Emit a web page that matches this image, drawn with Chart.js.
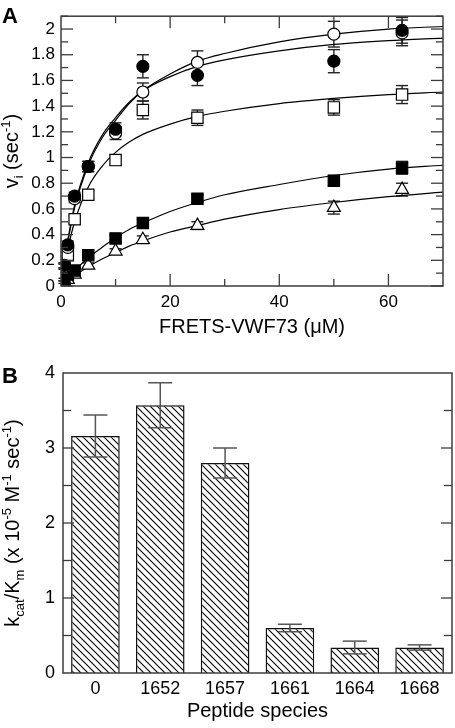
<!DOCTYPE html>
<html>
<head>
<meta charset="utf-8">
<script src="https://cdn.jsdelivr.net/npm/chart.js@4.4.0/dist/chart.umd.min.js"></script>
<style>
  body { margin: 0; background: #fff; }
  #wrapA { position: absolute; left: 0; top: 0; width: 455px; height: 340px; }
  #wrapB { position: absolute; left: 0; top: 340px; width: 455px; height: 388px; }
</style>
</head>
<body>
<div id="wrapA"><canvas id="chartA" width="455" height="340"></canvas></div>
<div id="wrapB"><canvas id="chartB" width="455" height="388"></canvas></div>
<script>
// ---- panel A: initial velocity vs substrate ----
const conc = [0.625, 1.25, 2.5, 5, 10, 15, 25, 50, 62.5];

const filledCircle = [0.16, 0.32, 0.70, 0.93, 1.22, 1.71, 1.64, 1.75, 1.99];
const filledCircleErr = [0.02, 0.03, 0.03, 0.04, 0.05, 0.09, 0.08, 0.09, 0.10];
const openCircle = [0.15, 0.30, 0.68, 0.93, 1.19, 1.51, 1.74, 1.96, 1.97];
const openCircleErr = [0.02, 0.03, 0.03, 0.04, 0.05, 0.07, 0.09, 0.10, 0.10];
const openSquare = [0.16, 0.24, 0.52, 0.71, 0.98, 1.37, 1.31, 1.39, 1.49];
const openSquareErr = [0.02, 0.02, 0.03, 0.03, 0.04, 0.07, 0.06, 0.06, 0.07];
const filledSquare = [0.05, 0.09, 0.12, 0.24, 0.37, 0.49, 0.68, 0.82, 0.92];
const filledSquareErr = [0.01, 0.02, 0.02, 0.02, 0.03, 0.03, 0.03, 0.04, 0.05];
const triangle = [0.03, 0.05, 0.09, 0.16, 0.27, 0.36, 0.47, 0.61, 0.75];
const triangleErr = [0.01, 0.01, 0.02, 0.02, 0.02, 0.03, 0.03, 0.05, 0.05];

// fitted curves
const fitX = [0, 0.625, 1.25, 2.5, 5, 7.5, 10, 12.5, 15, 20, 25, 30, 40, 50, 60, 70];
const fitOpenCircle = [0, 0.18, 0.34, 0.61, 0.94, 1.15, 1.29, 1.42, 1.52, 1.65, 1.75, 1.81, 1.90, 1.96, 2.00, 2.02];
const fitFilledCircle = [0, 0.19, 0.36, 0.63, 0.96, 1.17, 1.31, 1.43, 1.52, 1.63, 1.71, 1.76, 1.83, 1.88, 1.91, 1.93];
const fitOpenSquare = [0, 0.16, 0.29, 0.50, 0.77, 0.93, 1.04, 1.12, 1.18, 1.26, 1.32, 1.36, 1.42, 1.46, 1.49, 1.51];
const fitFilledSquare = [0, 0.03, 0.06, 0.12, 0.22, 0.30, 0.375, 0.44, 0.49, 0.58, 0.65, 0.71, 0.79, 0.86, 0.91, 0.94];
const fitTriangle = [0, 0.02, 0.04, 0.08, 0.15, 0.21, 0.26, 0.31, 0.35, 0.42, 0.47, 0.52, 0.595, 0.65, 0.695, 0.73];

const aXTicks = [0, 20, 40, 60];
const aYTicks = [0, 0.2, 0.4, 0.6, 0.8, 1, 1.2, 1.4, 1.6, 1.8, 2];

// ---- panel B: kcat/Km per peptide ----
const species = ['0', '1652', '1657', '1661', '1664', '1668'];
const kcatKm = [3.16, 3.57, 2.80, 0.60, 0.34, 0.34];
const kcatKmErr = [0.28, 0.30, 0.20, 0.05, 0.085, 0.035];
const bYTicks = [0, 1, 2, 3, 4];

const FONT = "'Liberation Sans', Arial, sans-serif";
const FRAME = '#3c3c3c';

function pts(ys) {
  return conc.map((x, i) => ({ x: x, y: ys[i] }));
}
function curve(ys) {
  return fitX.map((x, i) => ({ x: x, y: ys[i] }));
}

// text with sub/superscripts, rotated to run bottom-to-top
function drawRich(ctx, parts, cx, cy, rotate) {
  ctx.save();
  ctx.fillStyle = '#000';
  ctx.textBaseline = 'alphabetic';
  ctx.textAlign = 'left';
  let w = 0;
  parts.forEach(p => {
    ctx.font = p[1] + 'px ' + FONT;
    w += ctx.measureText(p[0]).width;
  });
  ctx.translate(cx, cy);
  if (rotate) ctx.rotate(-Math.PI / 2);
  let x = -w / 2;
  parts.forEach(p => {
    ctx.font = p[1] + 'px ' + FONT;
    ctx.fillText(p[0], x, p[2]);
    x += ctx.measureText(p[0]).width;
  });
  ctx.restore();
}

function line(ctx, x1, y1, x2, y2) {
  ctx.beginPath();
  ctx.moveTo(x1, y1);
  ctx.lineTo(x2, y2);
  ctx.stroke();
}

const errSetsA = [
  [filledCircle, filledCircleErr],
  [openCircle, openCircleErr],
  [openSquare, openSquareErr],
  [filledSquare, filledSquareErr],
  [triangle, triangleErr]
];

const panelAPlugin = {
  id: 'panelA',
  beforeDatasetsDraw(chart) {
    const ctx = chart.ctx, xs = chart.scales.x, ys = chart.scales.y;
    ctx.save();
    ctx.strokeStyle = '#222';
    ctx.lineWidth = 1.4;
    errSetsA.forEach(([vals, errs]) => {
      vals.forEach((v, i) => {
        const px = xs.getPixelForValue(conc[i]);
        const top = ys.getPixelForValue(v + errs[i]);
        const bot = ys.getPixelForValue(v - errs[i]);
        line(ctx, px, top, px, bot);
        line(ctx, px - 6, top, px + 6, top);
        line(ctx, px - 6, bot, px + 6, bot);
      });
    });
    ctx.restore();
  },
  afterDraw(chart) {
    const ctx = chart.ctx, a = chart.chartArea;
    const xs = chart.scales.x, ys = chart.scales.y;
    ctx.save();
    ctx.strokeStyle = FRAME;
    ctx.lineWidth = 1.5;
    ctx.strokeRect(a.left, a.top, a.right - a.left, a.bottom - a.top);
    ctx.lineWidth = 1.3;
    for (let k = 0; k <= 21; k++) {
      const py = ys.getPixelForValue(k / 10);
      const len = k % 2 === 0 ? 12 : 7;
      line(ctx, a.left, py, a.left + len, py);
      line(ctx, a.right - len, py, a.right, py);
    }
    for (let k = 1; k < 7; k++) {
      const px = xs.getPixelForValue(k * 10);
      const len = k % 2 === 0 ? 12 : 7;
      line(ctx, px, a.bottom, px, a.bottom - len);
      line(ctx, px, a.top, px, a.top + len);
    }
    ctx.restore();

    ctx.save();
    ctx.fillStyle = '#000';
    ctx.font = 'bold 22px ' + FONT;
    ctx.textAlign = 'left';
    ctx.textBaseline = 'alphabetic';
    ctx.fillText('A', 2, 23);
    ctx.font = '20px ' + FONT;
    ctx.textAlign = 'center';
    ctx.fillText('FRETS-VWF73 (\u03bcM)', (a.left + a.right) / 2, 333);
    ctx.restore();

    drawRich(ctx, [
      ['v', 20, 0], ['i', 13, 5], [' (sec', 20, 0], ['-1', 13, -8], [')', 20, 0]
    ], 18, (a.top + a.bottom) / 2, true);
  }
};

const markerBase = { showLine: false, borderColor: '#000', borderWidth: 1.2 };
const curveBase = {
  showLine: true, pointRadius: 0, borderColor: '#000', borderWidth: 1.2,
  cubicInterpolationMode: 'monotone', fill: false
};

new Chart(document.getElementById('chartA'), {
  type: 'scatter',
  data: {
    datasets: [
      Object.assign({ data: pts(filledCircle), pointStyle: 'circle', pointRadius: 6, backgroundColor: '#000' }, markerBase),
      Object.assign({ data: pts(openCircle), pointStyle: 'circle', pointRadius: 6, backgroundColor: '#fff' }, markerBase),
      Object.assign({ data: pts(openSquare), pointStyle: 'rect', pointRadius: 8, backgroundColor: '#fff' }, markerBase),
      Object.assign({ data: pts(filledSquare), pointStyle: 'rect', pointRadius: 8, backgroundColor: '#000' }, markerBase),
      Object.assign({ data: pts(triangle), pointStyle: 'triangle', pointRadius: 7.5, backgroundColor: '#fff' }, markerBase),
      Object.assign({ data: curve(fitFilledCircle) }, curveBase),
      Object.assign({ data: curve(fitOpenCircle) }, curveBase),
      Object.assign({ data: curve(fitOpenSquare) }, curveBase),
      Object.assign({ data: curve(fitFilledSquare) }, curveBase),
      Object.assign({ data: curve(fitTriangle) }, curveBase)
    ]
  },
  options: {
    responsive: false,
    animation: false,
    layout: { padding: { left: 0, top: 3, right: 12, bottom: 0 } },
    plugins: { legend: { display: false }, tooltip: { enabled: false } },
    scales: {
      x: {
        type: 'linear', min: 0, max: 70,
        grid: { display: false, drawTicks: false },
        border: { display: false },
        afterBuildTicks: s => { s.ticks = aXTicks.map(v => ({ value: v })); },
        afterFit: s => { s.height = 54; },
        ticks: { color: '#000', padding: 6, maxRotation: 0, font: { family: FONT, size: 17 } }
      },
      y: {
        type: 'linear', min: 0, max: 2.1,
        grid: { display: false, drawTicks: false },
        border: { display: false },
        afterBuildTicks: s => { s.ticks = aYTicks.map(v => ({ value: v })); },
        afterFit: s => { s.width = 61; },
        ticks: {
          color: '#000', padding: 6, font: { family: FONT, size: 17 },
          callback: v => String(Math.round(v * 10) / 10)
        }
      }
    }
  },
  plugins: [panelAPlugin]
});

// ---- panel B ----
const ctxB = document.getElementById('chartB').getContext('2d');

function makeHatch() {
  const c = document.createElement('canvas');
  c.width = 7; c.height = 7;
  const g = c.getContext('2d');
  g.fillStyle = '#fff';
  g.fillRect(0, 0, 7, 7);
  g.strokeStyle = '#000';
  g.lineWidth = 1.1;
  g.beginPath();
  g.moveTo(-1, -1); g.lineTo(8, 8);
  g.moveTo(-4.5, 2.5); g.lineTo(1.5, 8.5);
  g.moveTo(5.5, -1.5); g.lineTo(8.5, 1.5);
  g.stroke();
  return ctxB.createPattern(c, 'repeat');
}

const panelBPlugin = {
  id: 'panelB',
  afterDatasetsDraw(chart) {
    const ctx = chart.ctx, ys = chart.scales.y;
    const meta = chart.getDatasetMeta(0);
    ctx.save();
    ctx.strokeStyle = '#555';
    ctx.lineWidth = 1.5;
    kcatKm.forEach((v, i) => {
      const px = meta.data[i].x;
      const top = ys.getPixelForValue(v + kcatKmErr[i]);
      const bot = ys.getPixelForValue(v - kcatKmErr[i]);
      line(ctx, px, top, px, bot);
      line(ctx, px - 12, top, px + 12, top);
      line(ctx, px - 12, bot, px + 12, bot);
    });
    ctx.restore();
  },
  afterDraw(chart) {
    const ctx = chart.ctx, a = chart.chartArea, ys = chart.scales.y;
    ctx.save();
    ctx.strokeStyle = FRAME;
    ctx.lineWidth = 1.5;
    ctx.strokeRect(a.left, a.top, a.right - a.left, a.bottom - a.top);
    ctx.lineWidth = 1.3;
    for (let k = 1; k < 8; k++) {
      const py = ys.getPixelForValue(k / 2);
      const len = k % 2 === 0 ? 11 : 8;
      line(ctx, a.left, py, a.left + len, py);
      line(ctx, a.right - len, py, a.right, py);
    }
    ctx.restore();

    ctx.save();
    ctx.fillStyle = '#000';
    ctx.font = 'bold 22px ' + FONT;
    ctx.textAlign = 'left';
    ctx.fillText('B', 2, 43);
    ctx.font = '20px ' + FONT;
    ctx.textAlign = 'center';
    ctx.fillText('Peptide species', (a.left + a.right) / 2, 377);
    ctx.restore();

    drawRich(ctx, [
      ['k', 20, 0], ['cat', 13, 5], ['/K', 20, 0], ['m', 13, 5],
      [' (x 10', 20, 0], ['-5', 13, -8], [' M', 20, 0], ['-1', 13, -8],
      [' sec', 20, 0], ['-1', 13, -8], [')', 20, 0]
    ], 19, (a.top + a.bottom) / 2, true);
  }
};

new Chart(ctxB, {
  type: 'bar',
  data: {
    labels: species,
    datasets: [{
      data: kcatKm,
      backgroundColor: makeHatch(),
      borderColor: '#111',
      borderWidth: 1.5,
      barPercentage: 0.75,
      categoryPercentage: 1
    }]
  },
  options: {
    responsive: false,
    animation: false,
    layout: { padding: { left: 0, top: 33, right: 3, bottom: 0 } },
    plugins: { legend: { display: false }, tooltip: { enabled: false } },
    scales: {
      x: {
        grid: { display: false, drawTicks: false },
        border: { display: false },
        afterFit: s => { s.height = 55; },
        ticks: { color: '#000', padding: 5, maxRotation: 0, font: { family: FONT, size: 18 } }
      },
      y: {
        min: 0, max: 4,
        grid: { display: false, drawTicks: false },
        border: { display: false },
        afterBuildTicks: s => { s.ticks = bYTicks.map(v => ({ value: v })); },
        afterFit: s => { s.width = 63; },
        ticks: { color: '#000', padding: 8, font: { family: FONT, size: 18 } }
      }
    }
  },
  plugins: [panelBPlugin]
});
</script>
</body>
</html>
